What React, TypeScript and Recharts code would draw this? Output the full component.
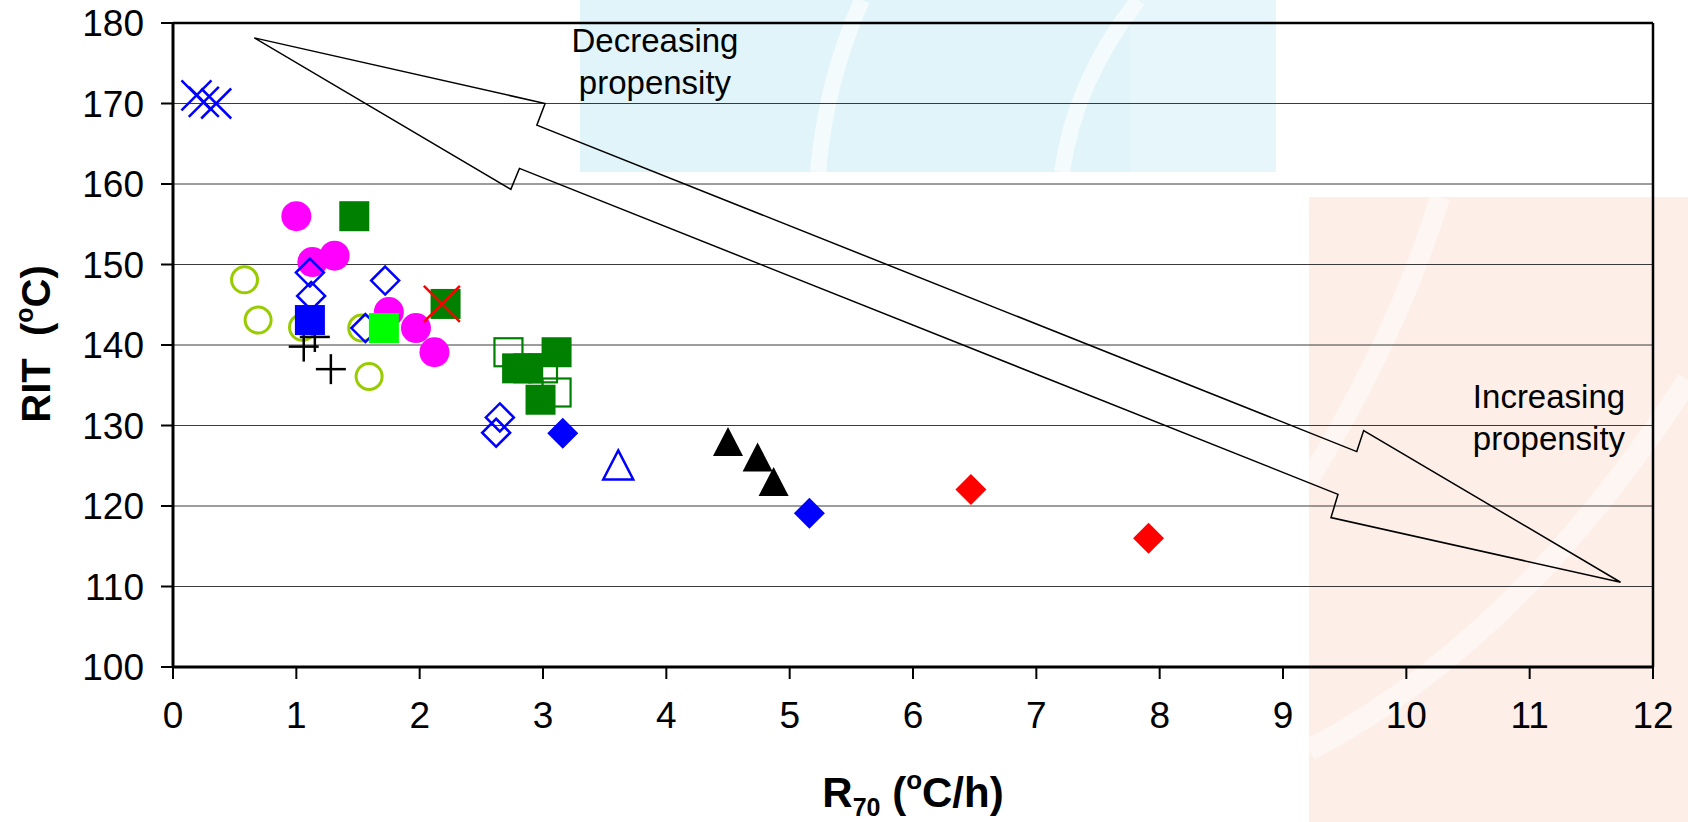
import React from 'react';
import { ScatterChart, Scatter, XAxis, YAxis, CartesianGrid, ReferenceLine } from 'recharts';

type Pt = { x: number; y: number };

// Axis ticks
const xTicks = [0, 1, 2, 3, 4, 5, 6, 7, 8, 9, 10, 11, 12];
const yTicks = [100, 110, 120, 130, 140, 150, 160, 170, 180];

// Series values: R70 (°C/h) vs RIT (°C)
const blueCrossPts: Pt[] = [
  { x: 0.19, y: 171.0 },
  { x: 0.25, y: 170.2 },
  { x: 0.35, y: 170.0 },
];
const oliveOpenCirclePts: Pt[] = [
  { x: 0.58, y: 148.1 },
  { x: 0.69, y: 143.1 },
  { x: 1.05, y: 142.2 },
  { x: 1.53, y: 142.1 },
  { x: 1.59, y: 136.1 },
];
const greenOpenSquarePts: Pt[] = [
  { x: 2.72, y: 139.1 },
  { x: 3.0, y: 137.1 },
  { x: 3.11, y: 134.1 },
];
const magentaCirclePts: Pt[] = [
  { x: 1.0, y: 156.0 },
  { x: 1.13, y: 150.3 },
  { x: 1.31, y: 151.1 },
  { x: 1.75, y: 144.1 },
  { x: 1.97, y: 142.1 },
  { x: 2.12, y: 139.1 },
];
const blueOpenDiamondPts: Pt[] = [
  { x: 1.11, y: 149.0 },
  { x: 1.12, y: 146.1 },
  { x: 1.72, y: 148.0 },
  { x: 1.56, y: 142.1 },
  { x: 2.65, y: 131.0 },
  { x: 2.62, y: 129.1 },
];
const blackPlusPts: Pt[] = [
  { x: 1.06, y: 139.8 },
  { x: 1.15, y: 141.0 },
  { x: 1.28, y: 137.0 },
];
const blueSquarePts: Pt[] = [{ x: 1.11, y: 143.1 }];
const limeSquarePts: Pt[] = [{ x: 1.71, y: 142.1 }];
const greenSquarePts: Pt[] = [
  { x: 1.47, y: 156.0 },
  { x: 2.21, y: 145.1 },
  { x: 2.79, y: 137.1 },
  { x: 2.88, y: 137.1 },
  { x: 3.11, y: 139.1 },
  { x: 2.98, y: 133.2 },
];
const redCrossPts: Pt[] = [{ x: 2.18, y: 145.1 }];
const blueDiamondPts: Pt[] = [
  { x: 3.16, y: 129.05 },
  { x: 5.16, y: 119.1 },
];
const blueOpenTrianglePts: Pt[] = [{ x: 3.61, y: 125.1 }];
const blackTrianglePts: Pt[] = [
  { x: 4.5, y: 128.0 },
  { x: 4.74, y: 126.1 },
  { x: 4.87, y: 123.05 },
];
const redDiamondPts: Pt[] = [
  { x: 6.47, y: 122.05 },
  { x: 7.91, y: 116.0 },
];

// Outline of the double-headed "propensity" arrow, in axis units
const arrowOutline: Pt[] = [
  { x: 0.659, y: 178.15 },
  { x: 3.017, y: 170.0 },
  { x: 2.95, y: 167.31 },
  { x: 9.598, y: 126.76 },
  { x: 9.654, y: 129.37 },
  { x: 11.737, y: 110.53 },
  { x: 9.389, y: 118.56 },
  { x: 9.446, y: 121.45 },
  { x: 2.809, y: 161.94 },
  { x: 2.739, y: 159.33 },
  { x: 0.659, y: 178.15 },
];

const FONT = '"Liberation Sans", Arial, Helvetica, sans-serif';

// Marker renderers
const filledCircle = (fill: string) => (p: any) => (
  <circle cx={p.cx} cy={p.cy} r={15} fill={fill} />
);
const openCircle = (stroke: string) => (p: any) => (
  <circle cx={p.cx} cy={p.cy} r={13} fill="none" stroke={stroke} strokeWidth={3} />
);
const filledSquare = (fill: string) => (p: any) => (
  <rect x={p.cx - 15} y={p.cy - 15} width={30} height={30} fill={fill} />
);
const openSquare = (stroke: string) => (p: any) => (
  <rect x={p.cx - 14} y={p.cy - 14} width={28} height={28} fill="none" stroke={stroke} strokeWidth={2.2} />
);
const diamondPath = (cx: number, cy: number, h: number) =>
  `M${cx},${cy - h}L${cx + h},${cy}L${cx},${cy + h}L${cx - h},${cy}Z`;
const filledDiamond = (fill: string) => (p: any) => (
  <path d={diamondPath(p.cx, p.cy, 15.5)} fill={fill} />
);
const openDiamond = (stroke: string) => (p: any) => (
  <path d={diamondPath(p.cx, p.cy, 14)} fill="none" stroke={stroke} strokeWidth={2.5} />
);
const trianglePath = (cx: number, cy: number) =>
  `M${cx},${cy - 14.5}L${cx + 15},${cy + 14.5}L${cx - 15},${cy + 14.5}Z`;
const filledTriangle = (fill: string) => (p: any) => (
  <path d={trianglePath(p.cx, p.cy)} fill={fill} />
);
const openTriangle = (stroke: string) => (p: any) => (
  <path d={trianglePath(p.cx, p.cy)} fill="none" stroke={stroke} strokeWidth={2.5} />
);
const crossMark = (stroke: string, h: number, w: number) => (p: any) => (
  <g stroke={stroke} strokeWidth={w}>
    <line x1={p.cx - h} y1={p.cy - h} x2={p.cx + h} y2={p.cy + h} />
    <line x1={p.cx - h} y1={p.cy + h} x2={p.cx + h} y2={p.cy - h} />
  </g>
);
const plusMark = (stroke: string) => (p: any) => (
  <g stroke={stroke} strokeWidth={2.5}>
    <line x1={p.cx - 15} y1={p.cy} x2={p.cx + 15} y2={p.cy} />
    <line x1={p.cx} y1={p.cy - 15} x2={p.cx} y2={p.cy + 15} />
  </g>
);
const noMark = () => <g />;

const XTitle = (props: any) => {
  const vb = props.viewBox || { x: 173, y: 667, width: 1480, height: 150 };
  const cx = vb.x + vb.width / 2;
  const y = vb.y + 140;
  return (
    <text x={cx} y={y} textAnchor="middle" fontFamily={FONT} fontWeight="bold" fontSize={42} fill="#000">
      <tspan>R</tspan>
      <tspan fontSize={25} dy={9}>70</tspan>
      <tspan dy={-9} style={{ whiteSpace: 'pre' }}> (</tspan>
      <tspan fontSize={26} dy={-18}>o</tspan>
      <tspan dy={18}>C/h)</tspan>
    </text>
  );
};

const YTitle = (props: any) => {
  const vb = props.viewBox || { x: 0, y: 23, width: 173, height: 644 };
  const x = vb.x + 50;
  const cy = vb.y + vb.height / 2 - 1;
  return (
    <text
      x={x}
      y={cy}
      transform={`rotate(-90, ${x}, ${cy})`}
      textAnchor="middle"
      fontFamily={FONT}
      fontWeight="bold"
      fontSize={40}
      fill="#000"
      style={{ whiteSpace: 'pre' }}
    >
      <tspan>RIT  (</tspan>
      <tspan fontSize={25} dy={-17}>o</tspan>
      <tspan dy={17}>C)</tspan>
    </text>
  );
};

const tickStyle = { fill: '#000', fontSize: 37, fontFamily: FONT };

export default function App() {
  return (
    <div style={{ position: 'absolute', left: 0, top: 0, width: 1688, height: 822, background: '#fff', overflow: 'hidden' }}>
      {/* faint backdrop artwork */}
      <svg width={1688} height={822} style={{ position: 'absolute', left: 0, top: 0 }}>
        <rect x={580} y={0} width={696} height={172} fill="#e1f4fa" />
        <path d="M862,0 Q826,80 818,172" stroke="#fff" strokeWidth={16} fill="none" opacity={0.6} />
        <path d="M1138,0 Q1075,80 1062,172" stroke="#fff" strokeWidth={16} fill="none" opacity={0.6} />
        <rect x={1130} y={0} width={146} height={172} fill="#fff" opacity={0.2} />
        <rect x={1309} y={197} width={379} height={625} fill="#fdeee8" />
        <path d="M1440,197 Q1400,330 1309,480" stroke="#fff" strokeWidth={20} fill="none" opacity={0.45} />
        <path d="M1309,750 Q1520,640 1688,380" stroke="#fff" strokeWidth={22} fill="none" opacity={0.45} />
      </svg>

      <div style={{ position: 'absolute', left: 0, top: 0 }}>
        <ScatterChart
          width={1688}
          height={822}
          margin={{ top: 23, right: 35, bottom: 5, left: 0 }}
        >
          <CartesianGrid horizontal vertical={false} stroke="#3a3a3a" strokeWidth={1} />
          <XAxis
            type="number"
            dataKey="x"
            domain={[0, 12]}
            ticks={xTicks}
            allowDataOverflow
            height={150}
            tickSize={12}
            tickMargin={23}
            tick={tickStyle}
            axisLine={{ stroke: '#000', strokeWidth: 3 }}
            tickLine={{ stroke: '#000', strokeWidth: 2 }}
            label={XTitle}
          />
          <YAxis
            type="number"
            dataKey="y"
            domain={[100, 180]}
            ticks={yTicks}
            allowDataOverflow
            width={173}
            tickSize={12}
            tickMargin={17}
            tick={tickStyle}
            axisLine={{ stroke: '#000', strokeWidth: 3 }}
            tickLine={{ stroke: '#000', strokeWidth: 2 }}
            label={YTitle}
          />
          <ReferenceLine y={180} stroke="#000" strokeWidth={2.5} />
          <ReferenceLine x={12} stroke="#000" strokeWidth={2.5} />

          <Scatter
            data={arrowOutline}
            line={{ stroke: '#000', strokeWidth: 1.5, fill: 'none' }}
            lineJointType="linear"
            shape={noMark}
            isAnimationActive={false}
          />
          <Scatter data={greenOpenSquarePts} shape={openSquare('#008000')} isAnimationActive={false} />
          <Scatter data={oliveOpenCirclePts} shape={openCircle('#99cc00')} isAnimationActive={false} />
          <Scatter data={magentaCirclePts} shape={filledCircle('#ff00ff')} isAnimationActive={false} />
          <Scatter data={blueOpenDiamondPts} shape={openDiamond('#0000ff')} isAnimationActive={false} />
          <Scatter data={blueCrossPts} shape={crossMark('#0000ff', 15, 2.5)} isAnimationActive={false} />
          <Scatter data={blackPlusPts} shape={plusMark('#000')} isAnimationActive={false} />
          <Scatter data={blueSquarePts} shape={filledSquare('#0000ff')} isAnimationActive={false} />
          <Scatter data={limeSquarePts} shape={filledSquare('#00ff00')} isAnimationActive={false} />
          <Scatter data={greenSquarePts} shape={filledSquare('#008000')} isAnimationActive={false} />
          <Scatter data={redCrossPts} shape={crossMark('#ff0000', 18, 2.5)} isAnimationActive={false} />
          <Scatter data={blueDiamondPts} shape={filledDiamond('#0000ff')} isAnimationActive={false} />
          <Scatter data={blueOpenTrianglePts} shape={openTriangle('#0000ff')} isAnimationActive={false} />
          <Scatter data={blackTrianglePts} shape={filledTriangle('#000')} isAnimationActive={false} />
          <Scatter data={redDiamondPts} shape={filledDiamond('#ff0000')} isAnimationActive={false} />
        </ScatterChart>
      </div>

      {/* arrow captions */}
      <svg width={1688} height={822} style={{ position: 'absolute', left: 0, top: 0, pointerEvents: 'none' }}>
        <g fontFamily={FONT} fontSize={33} fill="#000" textAnchor="middle">
          <text x={655} y={52}>Decreasing</text>
          <text x={655} y={94}>propensity</text>
          <text x={1549} y={408}>Increasing</text>
          <text x={1549} y={450}>propensity</text>
        </g>
      </svg>
    </div>
  );
}
